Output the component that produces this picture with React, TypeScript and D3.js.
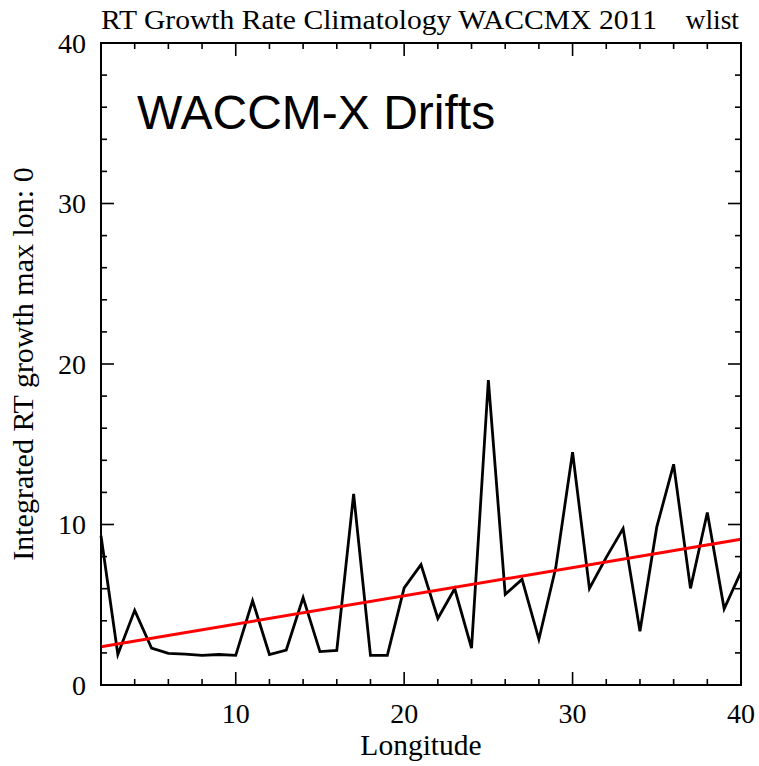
import React from "react";
import * as d3 from "d3";

const longitudes = [2,3,4,5,6,7,8,9,10,11,12,13,14,15,16,17,18,19,20,21,22,23,24,25,26,27,28,29,30,31,32,33,34,35,36,37,38,39,40];
const growth = [9.3,1.9,4.65,2.3,1.97,1.93,1.85,1.9,1.85,5.25,1.9,2.18,5.45,2.08,2.16,11.9,1.85,1.85,6.05,7.5,4.15,6.0,2.3,19.0,5.65,6.58,2.85,7.3,14.5,6.02,7.95,9.75,3.35,9.85,13.75,6.02,10.75,4.75,7.05];
const trendX = [2, 40];
const trendY = [2.38, 9.08];
const xTickLabels = [10, 20, 30, 40];
const yTickLabels = [0, 10, 20, 30, 40];
const titleText = "RT Growth Rate Climatology WACCMX 2011";
const titleTag = "wlist";
const annotation = "WACCM-X Drifts";
const xLabel = "Longitude";
const yLabel = "Integrated RT growth max lon: 0";

export default function App() {
  const W = 759, H = 766;
  const L = 101, R = 741, T = 43, B = 685;
  const x = d3.scaleLinear().domain([2, 40]).range([L, R]);
  const y = d3.scaleLinear().domain([0, 40]).range([B, T]);
  const line = d3.line<number>().x((_, i) => x(longitudes[i])).y((d) => y(d));
  const trend = d3.line<number>().x((_, i) => x(trendX[i])).y((d) => y(d));
  const xMinor = d3.range(4, 40, 2);
  const yMinor = d3.range(2, 40, 2);
  const serif = "'Liberation Serif', 'Times New Roman', serif";
  const major = 13, minor = 6;
  return (
    <svg width={W} height={H} style={{ position: "absolute", left: 0, top: 0 }}>
      <rect x={0} y={0} width={W} height={H} fill="#fff" />
      <text x={101} y={29} fontFamily={serif} fontSize={27.5} textLength={556} lengthAdjust="spacingAndGlyphs">{titleText}</text>
      <text x={739} y={29} textAnchor="end" fontFamily={serif} fontSize={27.5}>{titleTag}</text>
      {xMinor.map((v) => {
        const len = v % 10 === 0 ? major : minor;
        return (
          <g key={"xt" + v}>
            <line x1={x(v)} x2={x(v)} y1={B} y2={B - len} stroke="#000" strokeWidth={1.6} />
            <line x1={x(v)} x2={x(v)} y1={T} y2={T + len} stroke="#000" strokeWidth={1.6} />
          </g>
        );
      })}
      {yMinor.map((v) => {
        const len = v % 10 === 0 ? major : minor;
        return (
          <g key={"yt" + v}>
            <line x1={L} x2={L + len} y1={y(v)} y2={y(v)} stroke="#000" strokeWidth={1.6} />
            <line x1={R} x2={R - len} y1={y(v)} y2={y(v)} stroke="#000" strokeWidth={1.6} />
          </g>
        );
      })}
      <path d={line(growth) || ""} fill="none" stroke="#000" strokeWidth={2.8} strokeLinejoin="miter" strokeMiterlimit={4} />
      <path d={trend(trendY) || ""} fill="none" stroke="#ff0000" strokeWidth={3} />
      <rect x={L} y={T} width={R - L} height={B - T} fill="none" stroke="#000" strokeWidth={2} />
      {xTickLabels.map((v) => (
        <text key={"xl" + v} x={x(v)} y={723} textAnchor="middle" fontFamily={serif} fontSize={28}>{v}</text>
      ))}
      {yTickLabels.map((v) => (
        <text key={"yl" + v} x={86} y={y(v) + 9.5} textAnchor="end" fontFamily={serif} fontSize={28}>{v}</text>
      ))}
      <text x={(L + R) / 2} y={755} textAnchor="middle" fontFamily={serif} fontSize={29.5}>{xLabel}</text>
      <text transform={`translate(33, ${(T + B) / 2}) rotate(-90)`} textAnchor="middle" fontFamily={serif} fontSize={30}>{yLabel}</text>
      <text x={137} y={129} fontFamily="'Liberation Sans', Arial, sans-serif" fontSize={48}>{annotation}</text>
    </svg>
  );
}
